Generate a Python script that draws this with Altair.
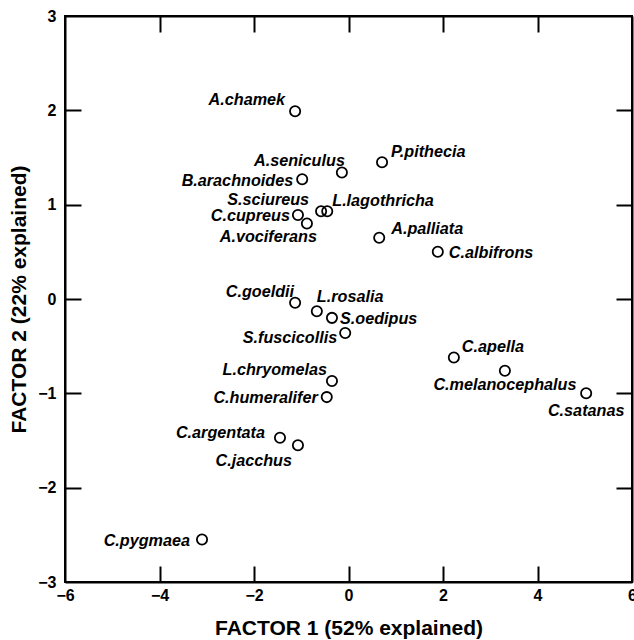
import altair as alt
import pandas as pd

# ---- data ----
species = ["A.chamek", "A.seniculus", "B.arachnoides", "S.sciureus", "L.lagothricha",
           "C.cupreus", "A.vociferans", "P.pithecia", "A.palliata", "C.albifrons",
           "C.goeldii", "L.rosalia", "S.oedipus", "S.fuscicollis", "L.chryomelas",
           "C.humeralifer", "C.argentata", "C.jacchus", "C.apella", "C.melanocephalus",
           "C.satanas", "C.pygmaea"]
factor1 = [-1.13, -0.14, -0.98, -0.58, -0.45, -1.07, -0.88, 0.71, 0.65, 1.89,
           -1.13, -0.67, -0.35, -0.07, -0.35, -0.46, -1.45, -1.07, 2.23, 3.31,
           5.03, -3.10]
factor2 = [1.99, 1.34, 1.27, 0.93, 0.93, 0.89, 0.80, 1.45, 0.65, 0.50,
           -0.04, -0.13, -0.20, -0.36, -0.87, -1.04, -1.47, -1.55, -0.62, -0.76,
           -1.00, -2.55]

x_ticks = [-4, -2, 0, 2, 4]
y_ticks = [-2, -1, 0, 1, 2]
x_labels = [-6, -4, -2, 0, 2, 4, 6]
y_labels = [-3, -2, -1, 0, 1, 2, 3]
x_range = [-6, 6]
y_range = [-3, 3]

# label placement (align, dx, dy) in pixels -- layout only
placement = {
    "A.chamek": ("right", -10, -11),
    "A.seniculus": ("right", 3, -12),
    "B.arachnoides": ("right", -9, 2),
    "S.sciureus": ("right", -12, -11),
    "L.lagothricha": ("left", 5, -10),
    "C.cupreus": ("right", -8, 1),
    "A.vociferans": ("right", 10, 13),
    "P.pithecia": ("left", 9, -10),
    "A.palliata": ("left", 12, -9),
    "C.albifrons": ("left", 11, 1),
    "C.goeldii": ("right", -1, -11),
    "L.rosalia": ("left", 0, -14),
    "S.oedipus": ("left", 8, 1),
    "S.fuscicollis": ("right", -8, 5),
    "L.chryomelas": ("right", -5, -11),
    "C.humeralifer": ("right", -9, 1),
    "C.argentata": ("right", -15, -5),
    "C.jacchus": ("right", -6, 16),
    "C.apella": ("left", 8, -10),
    "C.melanocephalus": ("center", 0, 14),
    "C.satanas": ("center", 0, 18),
    "C.pygmaea": ("right", -12, 1),
}

FONT = "Liberation Sans"
W, H = 567, 566
TICK = 16
LW = 2

xscale = alt.Scale(domain=x_range, nice=False, zero=False)
yscale = alt.Scale(domain=y_range, nice=False, zero=False)

df = pd.DataFrame({"name": species, "f1": factor1, "f2": factor2})
base = alt.Chart(df)

# main axes: labels, titles, left/bottom frame lines
xaxis = alt.Axis(values=x_labels, format="d", grid=False, ticks=False,
                 domain=True, domainColor="black", domainWidth=LW,
                 labelFlush=False, labelFont=FONT, labelFontSize=16, labelFontWeight="bold",
                 labelColor="black", labelPadding=5,
                 title="FACTOR 1 (52% explained)", titleFont=FONT, titleFontSize=21,
                 titleFontWeight="bold", titleColor="black", titlePadding=14)
yaxis = alt.Axis(values=y_labels, format="d", grid=False, ticks=False,
                 domain=True, domainColor="black", domainWidth=LW,
                 labelFlush=False, labelFont=FONT, labelFontSize=16, labelFontWeight="bold",
                 labelColor="black", labelPadding=9,
                 title="FACTOR 2 (22% explained)", titleFont=FONT, titleFontSize=21,
                 titleFontWeight="bold", titleColor="black", titlePadding=8)

def tick_axis(values, orient, offset, domain):
    return alt.Axis(values=values, orient=orient, offset=offset, labels=False,
                    title=None, grid=False, ticks=True, tickSize=TICK, tickWidth=LW,
                    tickColor="black", domain=domain, domainColor="black",
                    domainWidth=LW)

X = alt.X("f1:Q", scale=xscale, axis=xaxis)
Y = alt.Y("f2:Q", scale=yscale, axis=yaxis)

points = base.mark_point(
    shape="circle", size=105, strokeWidth=1.8, color="black", opacity=1, filled=False
).encode(x=X, y=Y)

labels = []
for n in species:
    al, dx, dy = placement[n]
    labels.append(
        base.transform_filter(alt.datum.name == n).mark_text(
            align=al, baseline="middle", dx=dx, dy=dy, font=FONT, fontSize=16.2,
            fontStyle="italic", fontWeight="bold", color="black"
        ).encode(x=X, y=Y, text="name:N")
    )

main = alt.layer(points, *labels)

# inward ticks on bottom and left edges (axes moved across the plot)
ticks_bl = base.mark_point(opacity=0).encode(
    x=alt.X("f1:Q", scale=xscale, axis=tick_axis(x_ticks, "top", -H, False)),
    y=alt.Y("f2:Q", scale=yscale, axis=tick_axis(y_ticks, "right", -W, False)),
)
# inward ticks on top and right edges, with the top/right frame lines
ticks_tr = base.mark_point(opacity=0).encode(
    x=alt.X("f1:Q", scale=xscale, axis=tick_axis(x_ticks, "bottom", -H, True)),
    y=alt.Y("f2:Q", scale=yscale, axis=tick_axis(y_ticks, "left", -W, True)),
)

chart = alt.layer(main, ticks_bl, ticks_tr).resolve_axis(
    x="independent", y="independent"
).properties(
    width=W, height=H,
    autosize=alt.AutoSizeParams(type="none"),
    padding={"left": 65, "top": 16, "right": 2, "bottom": 58},
    background="white",
).configure_view(stroke="black", strokeWidth=LW)

chart.save("out.html", embed_options={"renderer": "svg", "actions": False})
